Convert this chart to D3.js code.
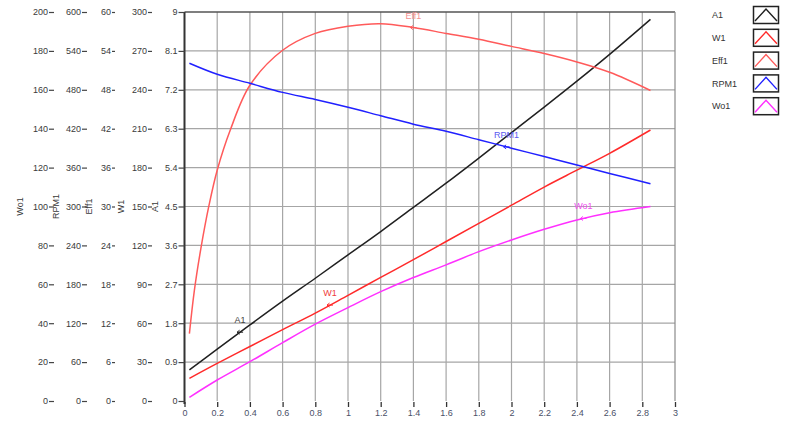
<!DOCTYPE html>
<html><head><meta charset="utf-8">
<script src="https://cdn.jsdelivr.net/npm/d3@7"></script>
<style>
body{margin:0;background:#fff}
svg{display:block}
text{font-family:"Liberation Sans",Arial,sans-serif}
</style>
</head><body><svg id="c" width="794" height="448"></svg>
<script>
// ---------- data ----------
const xShared = [0.03,0.2,0.4,0.6,0.8,1.0,1.2,1.4,1.6,1.8,2.0,2.2,2.4,2.6,2.85];
const a1Vals  = [0.72,1.20,1.76,2.31,2.84,3.38,3.92,4.48,5.04,5.62,6.21,6.80,7.40,8.02,8.83];
const w1Vals  = [17.5,29,42,55,67.8,81.5,95.3,109,123,137,151,165,178,191,209];
const wo1Vals = [1.9,10.8,20.2,30,39.5,48,56.2,63.5,70,76.8,82.8,88.3,93.1,96.8,100];
const rpmVals = [521,504,490,476,465,453,440,427,416,403,390,377,364,351,335];
const xEff    = [0.03,0.06,0.1,0.15,0.2,0.28,0.4,0.6,0.8,1.0,1.2,1.4,1.6,1.8,2.0,2.2,2.4,2.6,2.85];
const effVals = [10.4,17,23.5,30.2,35.6,41.8,48.7,54.1,56.7,57.8,58.2,57.6,56.7,55.8,54.7,53.6,52.3,50.7,47.9];

const xTicks   = [0,0.2,0.4,0.6,0.8,1,1.2,1.4,1.6,1.8,2,2.2,2.4,2.6,2.8,3];
const a1Ticks  = [0,0.9,1.8,2.7,3.6,4.5,5.4,6.3,7.2,8.1,9];
const w1Ticks  = [0,30,60,90,120,150,180,210,240,270,300];
const effTicks = [0,6,12,18,24,30,36,42,48,54,60];
const rpmTicks = [0,60,120,180,240,300,360,420,480,540,600];
const wo1Ticks = [0,20,40,60,80,100,120,140,160,180,200];

const seriesNames = ["A1","W1","Eff1","RPM1","Wo1"];
const seriesColors = ["#202020","#ff2a2a","#ff5a5a","#2020ff","#ff30ff"];
const labelColors  = ["#404040","#f03c3c","#f59090","#5a5af0","#f050f0"];
const markerX = [0.34,0.89,1.40,1.97,2.44];

// ---------- layout ----------
const svg = d3.select("#c");
const L = 184.5, R = 675, T = 12, B = 401;
const x = d3.scaleLinear().domain([0,3]).range([L,R]);
const mkY = m => d3.scaleLinear().domain([0,m]).range([B,T]);
const yA1 = mkY(9), yW1 = mkY(300), yEff = mkY(60), yRpm = mkY(600), yWo1 = mkY(200);

// grid
const g = svg.append("g");
g.selectAll("line.v").data(xTicks.slice(1,-1)).join("line")
  .attr("x1",d=>x(d)).attr("x2",d=>x(d)).attr("y1",T).attr("y2",B)
  .attr("stroke","#a6a6a6").attr("stroke-width",1.2);
g.selectAll("line.h").data(a1Ticks.slice(1,-1)).join("line")
  .attr("x1",L).attr("x2",R).attr("y1",d=>yA1(d)).attr("y2",d=>yA1(d))
  .attr("stroke","#a6a6a6").attr("stroke-width",1.2);
g.append("line").attr("x1",L).attr("x2",R).attr("y1",T).attr("y2",T).attr("stroke","#555").attr("stroke-width",1.3);
g.append("line").attr("x1",R).attr("x2",R).attr("y1",T).attr("y2",B).attr("stroke","#8a8a8a").attr("stroke-width",1.2);

// left axes
const axesDef = [
  {name:"Wo1", scale:yWo1, ticks:wo1Ticks, ax:54, ts:5, tx:20},
  {name:"RPM1", scale:yRpm, ticks:rpmTicks, ax:87, ts:5, tx:56},
  {name:"Eff1", scale:yEff, ticks:effTicks, ax:115, ts:3, tx:89},
  {name:"W1", scale:yW1, ticks:w1Ticks, ax:152, ts:4, tx:121},
  {name:"A1", scale:yA1, ticks:a1Ticks, ax:L, ts:6, tx:155}
];
axesDef.forEach((a,i)=>{
  const axis = d3.axisLeft(a.scale).tickValues(a.ticks).tickSize(a.ts).tickPadding(1)
    .tickFormat(d=>String(+d.toFixed(2)));
  const ag = svg.append("g").attr("transform",`translate(${a.ax},0)`).call(axis);
  ag.selectAll(".tick line").attr("stroke","#444").attr("stroke-width",1.2);
  ag.selectAll(".tick text").attr("fill","#3a3a3a").style("font-size","9px");
  if (i < 4) ag.select(".domain").remove();
  else ag.select(".domain").attr("d",`M0,${T}V${B+3}`).attr("stroke","#333").attr("stroke-width",2);
  svg.append("text").attr("transform",`translate(${a.tx},${(T+B)/2}) rotate(-90)`)
    .attr("text-anchor","middle").attr("dy","0.35em")
    .attr("fill","#3a3a3a").style("font-size","9px").text(a.name);
});

// bottom axis
const bx = d3.axisBottom(x).tickValues(xTicks).tickSize(5).tickPadding(3)
  .tickFormat(d=>String(+d.toFixed(1)));
const bg = svg.append("g").attr("transform",`translate(0,${B+1})`).call(bx);
bg.select(".domain").remove();
bg.selectAll(".tick line").attr("stroke","#333").attr("stroke-width",1.3);
bg.selectAll(".tick text").attr("fill","#4a5068").style("font-size","9px");

// series
const series = [
  {xs:xShared, vs:a1Vals, y:yA1},
  {xs:xShared, vs:w1Vals, y:yW1},
  {xs:xEff, vs:effVals, y:yEff},
  {xs:xShared, vs:rpmVals, y:yRpm},
  {xs:xShared, vs:wo1Vals, y:yWo1}
];
series.forEach((s,i)=>{
  const pts = s.xs.map((xv,k)=>[xv,s.vs[k]]);
  const line = d3.line().x(d=>x(d[0])).y(d=>s.y(d[1])).curve(d3.curveCatmullRom.alpha(0.5));
  svg.append("path").attr("d",line(pts)).attr("fill","none")
    .attr("stroke",seriesColors[i]).attr("stroke-width",1.5);
  // cursor marker + label
  const interp = d3.scaleLinear().domain(s.xs).range(s.vs);
  const mx = x(markerX[i]), my = s.y(interp(markerX[i]));
  svg.append("path").attr("d",`M${mx-3},${my}h6M${mx-3},${my}l2.5,-2M${mx-3},${my}l2.5,2`)
    .attr("stroke",seriesColors[i]).attr("stroke-width",1).attr("fill","none");
  svg.append("text").attr("x",mx).attr("y",my-9).attr("text-anchor","middle")
    .attr("fill",labelColors[i]).style("font-size","9px").text(seriesNames[i]);
});

// legend
const lg = svg.append("g");
seriesNames.forEach((n,i)=>{
  const cy = 15 + i*22.8;
  lg.append("text").attr("x",712).attr("y",cy).attr("dy","0.35em")
    .attr("fill","#333").style("font-size","9px").text(n);
  lg.append("rect").attr("x",753.5).attr("y",cy-8.5).attr("width",25).attr("height",17)
    .attr("fill","#fff").attr("stroke","#222").attr("stroke-width",1.5);
  lg.append("path").attr("d",`M${755},${cy+6}L${766},${cy-6}L${777},${cy+6}`)
    .attr("fill","none").attr("stroke",seriesColors[i]).attr("stroke-width",1.4);
});
</script>
</body></html>
